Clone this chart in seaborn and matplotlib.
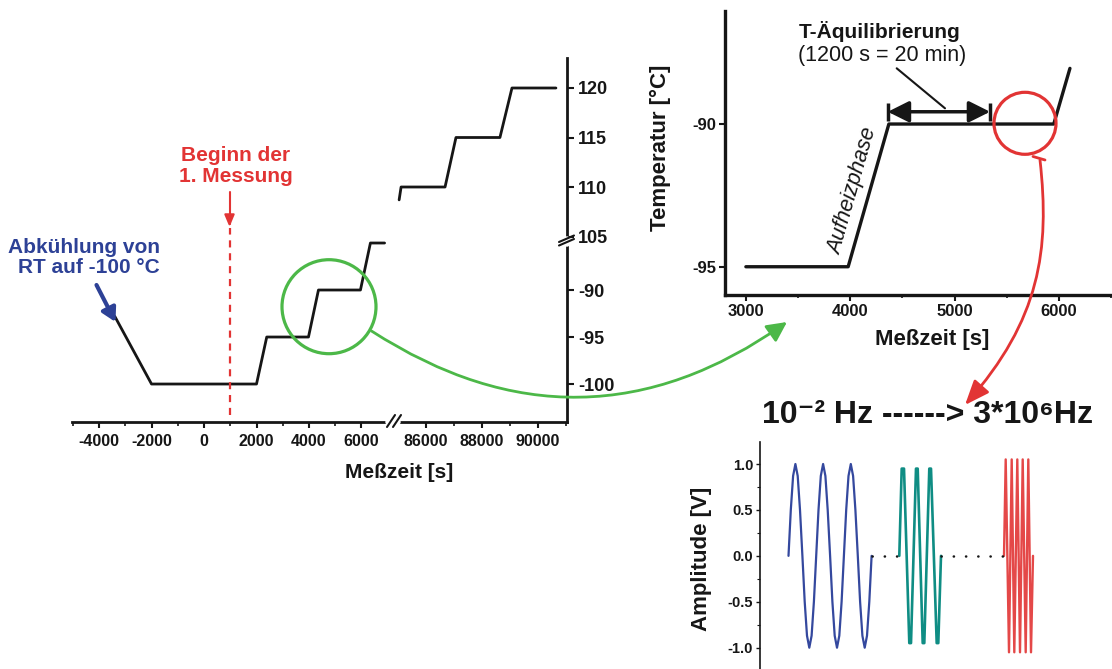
import numpy as np
import matplotlib
matplotlib.use("Agg")
import matplotlib.pyplot as plt
import matplotlib.transforms as mtransforms
from matplotlib.patches import Circle, FancyArrowPatch
from matplotlib.path import Path
import seaborn as sns

# ---------------- data ----------------
main_time_low = [-3400, -2000, 2000, 2390, 3980, 4360, 5960, 6340, 6880]
main_temp_low = [-92.8, -100, -100, -95, -95, -90, -90, -85, -85]
main_time_high = [85040, 85110, 86680, 87070, 88640, 89070, 90640]
main_temp_high = [108.7, 110, 110, 115, 115, 120, 120]
measurement_start = 1000

main_xticks = [-4000, -2000, 0, 2000, 4000, 6000, 86000, 88000, 90000]
main_xticklabels = ["-4000", "-2000", "0", "2000", "4000", "6000", "86000", "88000", "90000"]
main_xminor = [-5000, -3000, -1000, 1000, 3000, 5000, 87000, 89000, 91000]
main_yticks = [-100, -95, -90, 105, 110, 115, 120]
main_yticklabels = ["-100", "-95", "-90", "105", "110", "115", "120"]

zoom_time = [3000, 3980, 4370, 5950, 6105]
zoom_temp = [-95, -95, -90, -90, -88.05]
zoom_xticks = [3000, 4000, 5000, 6000]
zoom_xticklabels = ["3000", "4000", "5000", "6000"]
zoom_xminor = [3500, 4500, 5500, 6500]
zoom_yticks = [-95, -90]
zoom_yticklabels = ["-95", "-90"]
equil_start, equil_end, equil_level = 4360, 5340, -89.57

blue_t = [28.5, 30.8, 33.1, 35.4, 37.7, 40.0, 42.4, 44.7, 47.0, 49.3, 51.6, 53.9,
          56.2, 58.5, 60.8, 63.1, 65.4, 67.7, 70.1, 72.4, 74.7, 77.0, 79.3, 81.6,
          83.9, 86.2, 88.5, 90.8, 93.1, 95.4, 97.8, 100.1, 102.4, 104.7, 107.0, 109.3, 111.6]
blue_v = [0, 0.5, 0.87, 1.0, 0.87, 0.5, 0, -0.5, -0.87, -1.0, -0.87, -0.5,
          0, 0.5, 0.87, 1.0, 0.87, 0.5, 0, -0.5, -0.87, -1.0, -0.87, -0.5,
          0, 0.5, 0.87, 1.0, 0.87, 0.5, 0, -0.5, -0.87, -1.0, -0.87, -0.5, 0]
teal_t = [139.3, 141.7, 144.0, 149.3, 151.0, 156.0, 157.7, 162.7, 164.3, 169.3, 171.0, 176.7, 178.3, 181.0]
teal_v = [0, 0.95, 0.95, -0.95, -0.95, 0.95, 0.95, -0.95, -0.95, 0.95, 0.95, -0.95, -0.95, 0]
red_t = [244.0, 245.7, 249.0, 251.7, 254.3, 257.3, 260.0, 262.7, 265.7, 268.3, 271.0, 273.0]
red_v = [0, 1.05, -1.05, 1.05, -1.05, 1.05, -1.05, 1.05, -1.05, 1.05, -1.05, 0]
amp_yticks = [-1.0, -0.5, 0.0, 0.5, 1.0]
amp_yticklabels = ["-1.0", "-0.5", "0.0", "0.5", "1.0"]
amp_yminor = [-0.75, -0.25, 0.25, 0.75]

# ---------------- style ----------------
sns.set_style("ticks")
plt.rcParams["font.family"] = ["Liberation Sans", "DejaVu Sans"]

BLACK = "#161616"
RED = "#e23434"
BLUE = "#2d4196"
GREEN = "#4cb848"
WAVE_BLUE = "#34489e"
WAVE_TEAL = "#0f8d84"

W, H = 1112, 669
fig = plt.figure(figsize=(W / 100, H / 100), dpi=100)
px = mtransforms.Affine2D().scale(1 / W, -1 / H).translate(0, 1) + fig.transFigure


def fpos(x, y):
    return x / W, 1 - y / H


# ---------------- main (broken axes) ----------------
ax = fig.add_axes([72 / W, (H - 422) / H, 495 / W, 364 / H])
sns.lineplot(x=main_time_low, y=main_temp_low, ax=ax, color=BLACK, lw=2.0,
             sort=False, estimator=None)
sns.lineplot(x=main_time_high, y=main_temp_high, ax=ax, color=BLACK, lw=2.0,
             sort=False, estimator=None)


def fx(x):
    x = np.asarray(x, float)
    return np.where(x < 40000, 204 + x / 38.1, 426 + (x - 86000) / 35.71)


def fx_inv(v):
    v = np.asarray(v, float)
    return np.where(v < 393, (v - 204) * 38.1, 86000 + (v - 426) * 35.71)


def fy(y):
    y = np.asarray(y, float)
    return np.where(y < 0, (y + 100) * 9.4 - 384, (y - 110) * 9.9 - 187)


def fy_inv(v):
    v = np.asarray(v, float)
    return np.where(v < -240, (v + 384) / 9.4 - 100, (v + 187) / 9.9 + 110)


ax.set_xscale("function", functions=(fx, fx_inv))
ax.set_yscale("function", functions=(fy, fy_inv))
ax.set_xlim(-5030, 91035)
ax.set_ylim(-104.04, 123.03)
ax.set_xticks(main_xticks, main_xticklabels, fontweight="bold", fontsize=11.5, color=BLACK)
ax.set_xticks(main_xminor, minor=True)
ax.yaxis.tick_right()
ax.set_yticks(main_yticks, main_yticklabels, fontweight="bold", fontsize=13, color=BLACK)
ax.set_yticks([], minor=True)
ax.tick_params(axis="x", which="major", length=4.5, width=1.5, pad=4.5, color=BLACK)
ax.tick_params(axis="x", which="minor", length=3, width=1.2, color=BLACK)
ax.tick_params(axis="y", which="major", length=5, width=1.5, pad=3, color=BLACK)
ax.spines["left"].set_visible(False)
ax.spines["top"].set_visible(False)
for s in ("bottom", "right"):
    ax.spines[s].set_linewidth(2.0)
    ax.spines[s].set_color(BLACK)
ax.set_xlabel("")
ax.set_ylabel("")
ax.axvline(measurement_start, ymin=(422 - 415) / 364, ymax=(422 - 228) / 364,
           color=RED, lw=1.6, ls=(0, (3.2, 2.6)))
ax.patch.set_alpha(0)

# axis break marks
fig.add_artist(plt.Line2D([388, 398], [422, 422], transform=px, color="white", lw=4, zorder=5))
for x0 in (387, 393):
    fig.add_artist(plt.Line2D([x0, x0 + 8], [427, 415], transform=px, color=BLACK, lw=1.5, zorder=6))
fig.add_artist(plt.Line2D([567, 567], [238.5, 243.5], transform=px, color="white", lw=4, zorder=5))
for y0 in (245.5, 242.0):
    fig.add_artist(plt.Line2D([559, 574], [y0, y0 - 6.5], transform=px, color=BLACK, lw=1.5, zorder=6))

fig.text(*fpos(399, 473), "Meßzeit [s]", ha="center", va="center", fontsize=15,
         fontweight="bold", color=BLACK)

# annotations main
fig.text(*fpos(236, 166), "Beginn der\n1. Messung", ha="center", va="center",
         fontsize=15, fontweight="bold", color=RED, linespacing=1.1)
fig.add_artist(FancyArrowPatch(path=Path([(229.5, 192), (229.5, 227)]), transform=px,
                               arrowstyle="-|>,head_length=0.6,head_width=0.25",
                               mutation_scale=12, color=RED, lw=1.5))
fig.text(*fpos(160, 257.5), "Abkühlung von\nRT auf -100 °C", ha="right", va="center",
         multialignment="right", fontsize=15, fontweight="bold", color=BLUE, linespacing=1.05)
fig.add_artist(FancyArrowPatch(path=Path([(96.5, 285), (115.5, 322)]), transform=px,
                               arrowstyle="-|>,head_length=0.8,head_width=0.45",
                               mutation_scale=10, color=BLUE, lw=3))

# green zoom circle and arrow
fig.add_artist(Circle((329, 306.7), 47, transform=px, fill=False, ec=GREEN, lw=2.3, zorder=7))
fig.add_artist(FancyArrowPatch(
    path=Path([(371.5, 331), (582, 467), (787, 322)], [Path.MOVETO, Path.CURVE3, Path.CURVE3]),
    transform=px, arrowstyle="-|>,head_length=0.6,head_width=0.3", mutation_scale=20,
    color=GREEN, lw=2.0, zorder=7))

# ---------------- inset (zoom) ----------------
ax2 = fig.add_axes([725 / W, (H - 295) / H, (W - 725) / W, 284 / H])
sns.lineplot(x=zoom_time, y=zoom_temp, ax=ax2, color=BLACK, lw=2.4, sort=False, estimator=None)
ax2.set_xlim(2800, 6508)
ax2.set_ylim(-95.99, -86.04)
ax2.set_xticks(zoom_xticks, zoom_xticklabels, fontweight="bold", fontsize=12, color=BLACK)
ax2.set_xticks(zoom_xminor, minor=True)
ax2.set_yticks(zoom_yticks, zoom_yticklabels, fontweight="bold", fontsize=12, color=BLACK)
ax2.tick_params(axis="both", which="major", length=4, width=1.5, pad=2.5, color=BLACK)
ax2.tick_params(axis="x", which="minor", length=2.5, width=1.2, color=BLACK)
ax2.spines["top"].set_visible(False)
ax2.spines["right"].set_visible(False)
for s in ("bottom", "left"):
    ax2.spines[s].set_linewidth(2.4)
    ax2.spines[s].set_color(BLACK)
ax2.set_xlabel("")
ax2.set_ylabel("")
ax2.patch.set_alpha(0)
ax2.annotate("", xy=(equil_end, equil_level), xytext=(equil_start, equil_level),
             arrowprops=dict(arrowstyle="<|-|>,head_length=0.8,head_width=0.4", lw=2.5,
                             color=BLACK, shrinkA=0, shrinkB=0, mutation_scale=16))
ax2.vlines([equil_start, equil_end], equil_level - 0.32, equil_level + 0.32, color=BLACK, lw=2.5)

fig.text(*fpos(880, 31.7), "T-Äquilibrierung", ha="center", va="center", fontsize=15,
         fontweight="bold", color=BLACK)
fig.text(*fpos(882.5, 56), "(1200 s = 20 min)", ha="center", va="center", fontsize=15.5,
         color=BLACK)
fig.add_artist(plt.Line2D([896.7, 945], [68.3, 108.3], transform=px, color=BLACK, lw=1.5))
fig.text(*fpos(853.3, 191.7), "Aufheizphase", ha="center", va="center", fontsize=15.5,
         style="italic", rotation=74, rotation_mode="anchor", color=BLACK)
fig.text(*fpos(660.5, 147.5), "Temperatur [°C]", ha="center", va="center", fontsize=16,
         fontweight="bold", rotation=90, color=BLACK)
fig.text(*fpos(931.7, 340), "Meßzeit [s]", ha="center", va="center", fontsize=16,
         fontweight="bold", color=BLACK)

# red circle and arrow
fig.add_artist(Circle((1025, 123.3), 31, transform=px, fill=False, ec=RED, lw=2.3, zorder=7))
fig.add_artist(FancyArrowPatch(
    path=Path([(1040, 160), (1050, 250), (1040, 320), (965, 405)],
              [Path.MOVETO, Path.CURVE4, Path.CURVE4, Path.CURVE4]),
    transform=px, arrowstyle="-|>,head_length=0.75,head_width=0.3", mutation_scale=20,
    color=RED, lw=2.0, zorder=7))
fig.add_artist(plt.Line2D([1033, 1045], [156.5, 160], transform=px, color=RED, lw=2.0, zorder=7))

# ---------------- amplitude panel ----------------
ax3 = fig.add_axes([760 / W, 0, (W - 760) / W, (H - 441.7) / H])
sns.lineplot(x=blue_t, y=blue_v, ax=ax3, color=WAVE_BLUE, lw=1.6, sort=False, estimator=None)
sns.lineplot(x=teal_t, y=teal_v, ax=ax3, color=WAVE_TEAL, lw=1.9, sort=False, estimator=None)
sns.lineplot(x=red_t, y=red_v, ax=ax3, color=RED, lw=1.7, alpha=0.9, sort=False, estimator=None)
for a, b in ((blue_t[-1], teal_t[0]), (teal_t[-1], red_t[0])):
    ax3.plot([a, b], [0, 0], color=BLACK, lw=1.8, ls=(0, (0.1, 4.8)), dash_capstyle="round")
ax3.set_xlim(0, W - 760)
ax3.set_ylim(-1.232, 1.243)
ax3.set_xticks([])
ax3.set_yticks(amp_yticks, amp_yticklabels, fontweight="bold", fontsize=10.5, color=BLACK)
ax3.set_yticks(amp_yminor, minor=True)
ax3.tick_params(axis="y", which="major", length=3, width=1.0, pad=2, color=BLACK)
ax3.tick_params(axis="y", which="minor", length=2, width=0.8, color=BLACK)
for s in ("top", "right", "bottom"):
    ax3.spines[s].set_visible(False)
ax3.spines["left"].set_linewidth(1.2)
ax3.spines["left"].set_color(BLACK)
ax3.set_xlabel("")
ax3.set_ylabel("")
ax3.patch.set_alpha(0)

fig.text(*fpos(928, 415), "10\u207b\u00b2 Hz ------> 3*10\u2076Hz", ha="center",
         va="center", fontsize=23, fontweight="bold", color=BLACK)
fig.text(*fpos(701.7, 558.7), "Amplitude [V]", ha="center", va="center", fontsize=16,
         fontweight="bold", rotation=90, color=BLACK)

fig.savefig("out.png", dpi=100, facecolor="white")
